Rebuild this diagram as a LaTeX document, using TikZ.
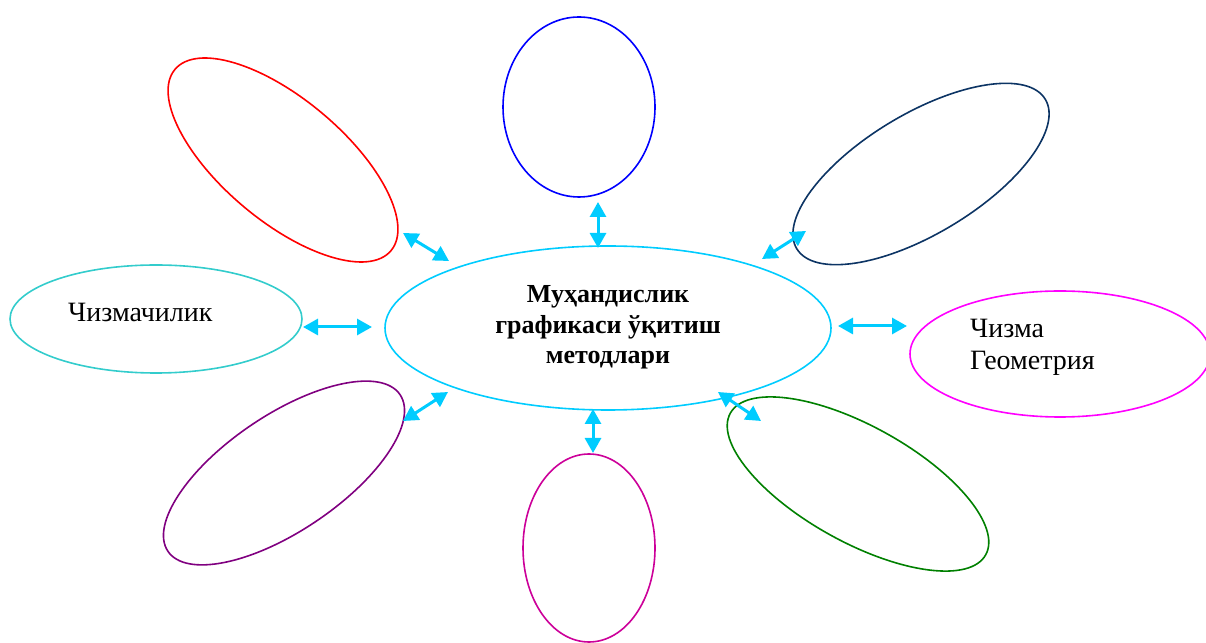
\documentclass[tikz,border=0pt]{standalone}
\usepackage{fontspec}
\setmainfont{Liberation Serif}
\usetikzlibrary{arrows.meta,shapes.geometric}
\definecolor{skyc}{RGB}{0,204,255}
\definecolor{navyc}{RGB}{12,52,100}
\definecolor{tealc}{RGB}{51,204,204}
\definecolor{magc}{RGB}{255,0,255}
\definecolor{pinkc}{RGB}{204,0,153}
\definecolor{greenc}{RGB}{0,128,0}
\definecolor{purplec}{RGB}{128,0,128}
\definecolor{bluec}{RGB}{0,0,255}
\definecolor{redc}{RGB}{255,0,0}
\begin{document}
\begin{tikzpicture}[x=1pt,y=1pt,
  oval/.style={ellipse, draw, line width=1.6pt, inner sep=0pt},
  link/.style={draw=skyc, line width=3pt,
    {Triangle[length=15pt,width=16pt]}-{Triangle[length=15pt,width=16pt]}},
  lbl/.style={font=\fontsize{28}{32}\selectfont, align=left, inner sep=0pt}]
\useasboundingbox (0,0) rectangle (1206,642);

% central topic
\node[oval, draw=skyc, minimum width=446pt, minimum height=164pt] (hub) at (608,314) {};
\node[font=\fontsize{26}{30.5}\selectfont\bfseries, align=center, inner sep=0pt, anchor=base] (title) at (608,278)
  {Муҳандислик\\графикаси ўқитиш\\методлари};

% surrounding ovals
\node[oval, draw=bluec, minimum width=152pt, minimum height=180pt] (n) at (579,535) {};
\node[oval, draw=redc, minimum width=282pt, minimum height=122pt, rotate=-40] (nw) at (283,482) {};
\node[oval, draw=navyc, minimum width=290pt, minimum height=120pt, rotate=31] (ne) at (921,468) {};
\node[oval, draw=tealc, minimum width=292pt, minimum height=108pt] (w) at (156,323) {};
\node[oval, draw=magc, minimum width=300pt, minimum height=126pt] (e) at (1060,288) {};
\node[oval, draw=purplec, minimum width=280pt, minimum height=116pt, rotate=34] (sw) at (284,169) {};
\node[oval, draw=pinkc, minimum width=132pt, minimum height=188pt] (s) at (589,94) {};
\node[oval, draw=greenc, minimum width=292pt, minimum height=116pt, rotate=-29] (se) at (858,158) {};

% labels
\node[lbl, anchor=base west] (wtext) at (68,320) {Чизмачилик};
\node[lbl, anchor=base west] (etext) at (970,272) {Чизма\\Геометрия};

% arrow end points
\coordinate (n1) at (598,440);  \coordinate (n2) at (598,394);
\coordinate (nw1) at (403,409); \coordinate (nw2) at (449,381);
\coordinate (ne1) at (806,411); \coordinate (ne2) at (762,383);
\coordinate (w1) at (303,315);  \coordinate (w2) at (372,315);
\coordinate (e1) at (838,316);  \coordinate (e2) at (907,316);
\coordinate (sw1) at (403,221); \coordinate (sw2) at (448,250);
\coordinate (s1) at (593,233);  \coordinate (s2) at (593,189);
\coordinate (se1) at (718,250); \coordinate (se2) at (761,221);

% double-headed connectors
\foreach \k in {n,nw,ne,w,e,sw,s,se}
  \draw[link] (\k1) -- (\k2);
\end{tikzpicture}
\end{document}
